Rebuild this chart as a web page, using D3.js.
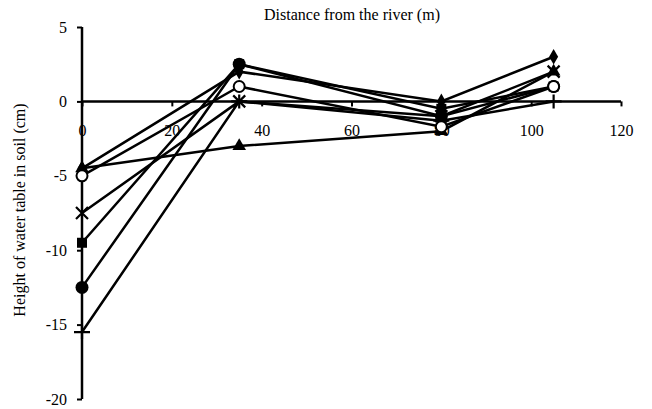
<!DOCTYPE html>
<html>
<head>
<meta charset="utf-8">
<script src="https://cdn.jsdelivr.net/npm/d3@7"></script>
<style>
body { margin: 0; background: #fff; }
text { font-family: "Liberation Serif", "Times New Roman", serif; fill: #000; }
</style>
</head>
<body>
<script>
const W = 652, H = 409;

const distances = [0, 35, 80, 105];
const xTicks = [0, 20, 40, 60, 80, 100, 120];
const yTicks = [5, 0, -5, -10, -15, -20];

const diamondVals = [-4.5, 2, 0, 3];
const squareVals = [-9.5, 2.5, -0.5, 1];
const triangleVals = [-4.5, -3, -2, 2];
const crossVals = [-7.5, 0, -1, 2];
const dotVals = [-12.5, 2.5, -1, 1];
const plusVals = [-15.5, 0, -1.3, 0];
const ringVals = [-5, 1, -1.7, 1];

const seriesList = [
    {name: 'diamond', values: diamondVals},
    {name: 'square', values: squareVals},
    {name: 'triangle', values: triangleVals},
    {name: 'cross', values: crossVals},
    {name: 'dot', values: dotVals},
    {name: 'plus', values: plusVals},
    {name: 'ring', values: ringVals}
];

const svg = d3.select('body').append('svg')
    .attr('width', W)
    .attr('height', H);

const x = d3.scaleLinear().domain([0, 120]).range([82, 621]);
const y = d3.scaleLinear().domain([-20, 5]).range([399, 27]);

// y axis (plain hyphen for negatives, like the original)
const yAxis = svg.append('g')
    .attr('transform', 'translate(' + x(0) + ',0)')
    .call(d3.axisLeft(y).tickValues(yTicks).tickSize(5).tickPadding(10).tickFormat(d => String(d)));
yAxis.select('.domain').attr('stroke-width', 2.5).attr('d', 'M0,' + y(5) + 'V' + y(-20));
yAxis.selectAll('.tick line').attr('stroke-width', 2);
yAxis.selectAll('text').style('font-size', '16px').style('font-family', '"Liberation Serif", serif');

// x axis crossing at zero
const xAxis = svg.append('g')
    .attr('transform', 'translate(0,' + y(0) + ')')
    .call(d3.axisBottom(x).tickValues(xTicks).tickSize(5).tickPadding(18));
xAxis.select('.domain').attr('stroke-width', 2.5).attr('d', 'M' + x(0) + ',0H' + x(120));
xAxis.selectAll('.tick line').attr('stroke-width', 2);
xAxis.selectAll('text').style('font-size', '16px').style('font-family', '"Liberation Serif", serif');

// lines
const line = d3.line()
    .x((d, i) => x(distances[i]))
    .y(d => y(d));

svg.append('g').selectAll('path')
    .data(seriesList)
    .enter()
    .append('path')
    .attr('d', d => line(d.values))
    .attr('fill', 'none')
    .attr('stroke', '#000')
    .attr('stroke-width', 2.5);

// markers
function drawMarker(g, type) {
    if (type === 'diamond') {
        g.append('path').attr('d', d3.symbol(d3.symbolDiamond, 70)()).attr('fill', '#000');
    } else if (type === 'square') {
        g.append('rect').attr('x', -5).attr('y', -5).attr('width', 10).attr('height', 10).attr('fill', '#000');
    } else if (type === 'triangle') {
        g.append('path').attr('d', d3.symbol(d3.symbolTriangle, 80)()).attr('fill', '#000');
    } else if (type === 'cross') {
        g.append('path').attr('d', 'M-6,-6L6,6M-6,6L6,-6').attr('stroke', '#000').attr('stroke-width', 2.2);
    } else if (type === 'dot') {
        g.append('circle').attr('r', 6.5).attr('fill', '#000');
    } else if (type === 'plus') {
        g.append('path').attr('d', 'M-8,0H8M0,-7V7').attr('stroke', '#000').attr('stroke-width', 2.2);
    } else if (type === 'ring') {
        g.append('circle').attr('r', 5.5).attr('fill', '#fff').attr('stroke', '#000').attr('stroke-width', 2);
    }
}

seriesList.forEach(s => {
    s.values.forEach((v, i) => {
        const g = svg.append('g')
            .attr('transform', 'translate(' + x(distances[i]) + ',' + y(v) + ')');
        drawMarker(g, s.name);
    });
});

// titles
svg.append('text')
    .attr('x', 352)
    .attr('y', 20)
    .attr('text-anchor', 'middle')
    .style('font-size', '16px')
    .text('Distance from the river (m)');

svg.append('text')
    .attr('transform', 'translate(25,210) rotate(-90)')
    .attr('text-anchor', 'middle')
    .style('font-size', '16px')
    .text('Height of water table in soil (cm)');
</script>
</body>
</html>
